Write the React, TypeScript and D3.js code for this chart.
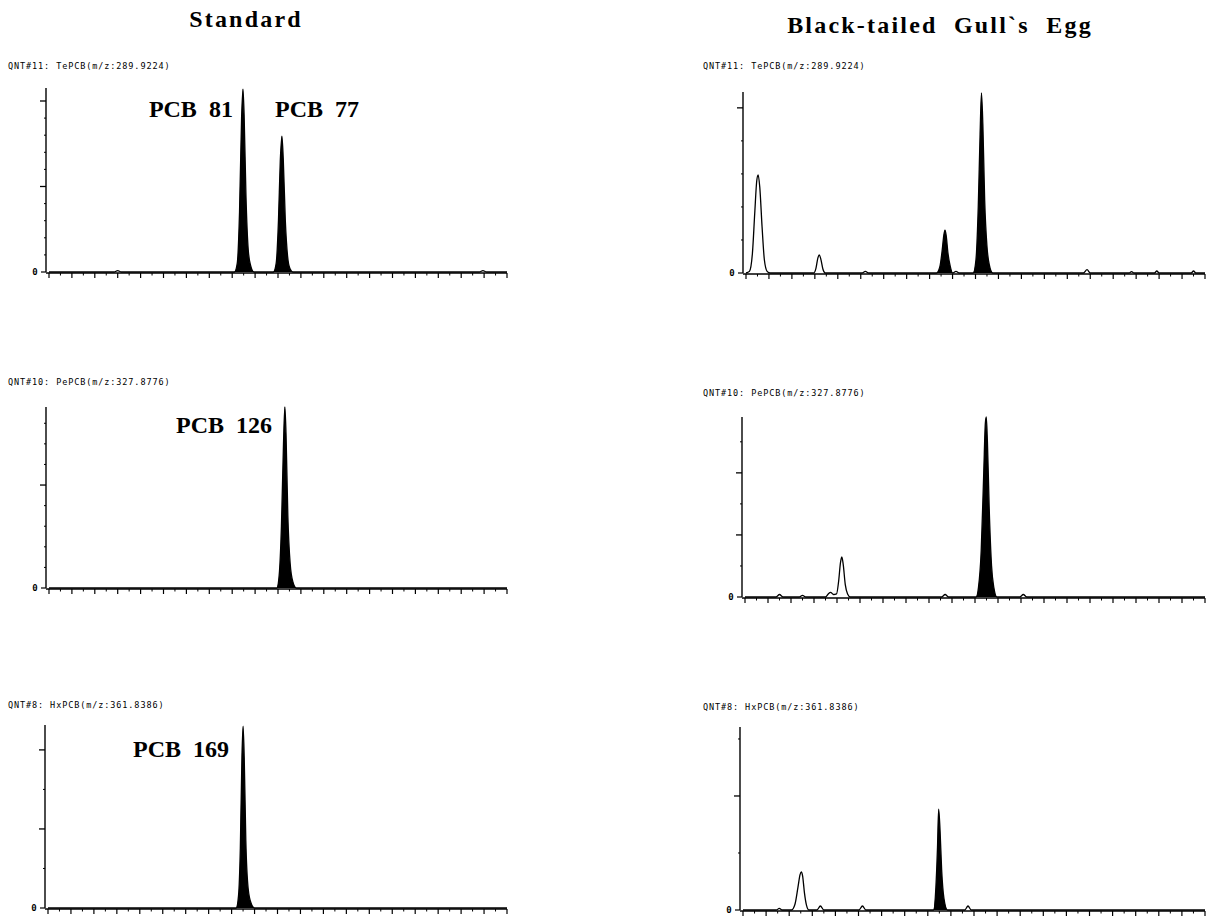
import React from 'react';
import * as d3 from 'd3';

const W = 1207;
const H = 917;

// retention time in x-axis ticks (0..20), intensity in relative units
const traceStd11: [number, number][] = [
  [0, 0], [2.85, 0], [3.0, 0.8], [3.15, 0], [8.1, 0], [8.22, 5], [8.32, 35], [8.41, 90], [8.47, 107],
  [8.52, 92], [8.6, 45], [8.7, 13], [8.8, 4], [8.95, 0], [9.8, 0], [9.92, 5], [10.02, 30], [10.1, 65],
  [10.17, 79.5], [10.23, 66], [10.32, 30], [10.42, 9], [10.52, 2], [10.65, 0], [18.8, 0], [18.95, 0.8],
  [19.1, 0], [20, 0],
];
const fillsStd11: [number, number][] = [[8.1, 8.95], [9.8, 10.65]];

const traceEgg11: [number, number][] = [
  [0, 0], [0.15, 0.5], [0.28, 6], [0.38, 18], [0.47, 28], [0.53, 29.7], [0.6, 26], [0.7, 14], [0.8, 4],
  [0.92, 0.5], [1.05, 0], [2.95, 0], [3.05, 1.5], [3.13, 4.5], [3.19, 5.5], [3.26, 4.2], [3.35, 1.2],
  [3.45, 0], [5.05, 0], [5.2, 0.5], [5.35, 0], [8.3, 0], [8.45, 2], [8.55, 7], [8.62, 11.5], [8.67, 13],
  [8.72, 11.5], [8.8, 6], [8.9, 2], [9.0, 0], [9.15, 0.5], [9.3, 0], [9.9, 0], [10.02, 4], [10.12, 20],
  [10.2, 42], [10.26, 54.5], [10.32, 45], [10.4, 22], [10.5, 8], [10.6, 2.5], [10.75, 0], [14.7, 0],
  [14.86, 1], [15.0, 0], [16.7, 0], [16.8, 0.4], [16.9, 0], [17.8, 0], [17.9, 0.6], [18.0, 0],
  [19.4, 0], [19.5, 0.6], [19.6, 0], [20, 0],
];
const fillsEgg11: [number, number][] = [[8.3, 9.0], [9.9, 10.75]];

const traceStd10: [number, number][] = [
  [0, 0], [9.95, 0], [10.05, 6], [10.15, 30], [10.24, 70], [10.3, 88], [10.35, 75], [10.43, 35],
  [10.53, 12], [10.65, 3], [10.8, 0], [20, 0],
];
const fillsStd10: [number, number][] = [[9.95, 10.8]];

const traceEgg10: [number, number][] = [
  [0, 0], [1.35, 0], [1.5, 0.8], [1.65, 0], [2.35, 0], [2.5, 0.5], [2.65, 0], [3.5, 0], [3.62, 1],
  [3.72, 1.5], [3.85, 0.8], [3.98, 1], [4.07, 5], [4.15, 11], [4.21, 12.9], [4.27, 10.5], [4.36, 4],
  [4.46, 1], [4.58, 0], [8.55, 0], [8.7, 0.8], [8.85, 0], [10.05, 0], [10.15, 3], [10.27, 15],
  [10.38, 40], [10.45, 56], [10.49, 58], [10.54, 50], [10.62, 28], [10.72, 10], [10.82, 3], [10.95, 0],
  [11.95, 0], [12.1, 0.8], [12.25, 0], [20, 0],
];
const fillsEgg10: [number, number][] = [[10.05, 10.95]];

const traceStd8: [number, number][] = [
  [0, 0], [8.2, 0], [8.3, 3], [8.38, 15], [8.45, 38], [8.5, 46], [8.55, 38], [8.62, 17], [8.72, 5],
  [8.85, 1.2], [9.0, 0], [20, 0],
];
const fillsStd8: [number, number][] = [[8.2, 9.0]];

const traceEgg8: [number, number][] = [
  [0, 0], [1.45, 0], [1.57, 0.3], [1.7, 0], [2.1, 0], [2.25, 1], [2.38, 4], [2.47, 6.2], [2.53, 6.7],
  [2.58, 6], [2.66, 3], [2.75, 0.8], [2.85, 0], [3.2, 0], [3.35, 0.7], [3.5, 0], [5.02, 0], [5.17, 0.7],
  [5.32, 0], [8.25, 0], [8.35, 4], [8.42, 11], [8.47, 17.7], [8.53, 14], [8.6, 7], [8.7, 2], [8.85, 0],
  [9.6, 0], [9.74, 0.7], [9.88, 0], [20, 0],
];
const fillsEgg8: [number, number][] = [[8.25, 8.85]];

const titles = ['Standard', 'Black-tailed  Gull`s  Egg'];
const channelLabels = [
  'QNT#11: TePCB(m/z:289.9224)',
  'QNT#10: PePCB(m/z:327.8776)',
  'QNT#8: HxPCB(m/z:361.8386)',
];
// [text, retention time, intensity, anchor]
const pcbStd11: [string, number, number, string][] = [['PCB  81', 8.03, 90.6, 'end'], ['PCB  77', 9.87, 90.6, 'start']];
const pcbStd10: [string, number, number, string][] = [['PCB  126', 9.74, 75.2, 'end']];
const pcbStd8: [string, number, number, string][] = [['PCB  169', 7.89, 38.2, 'end']];

const panels = [
  { x0: 49, x1: 507, axisX: 46, yBase: 272, yTop: 88, yMax: 107.6, major: 50, minor: 10, lx: 8, ly: 66,
    label: channelLabels[0], trace: traceStd11, fills: fillsStd11, pcb: pcbStd11 },
  { x0: 746, x1: 1205, axisX: 743, yBase: 273, yTop: 92, yMax: 54.8, major: 50, minor: 10, lx: 703, ly: 66,
    label: channelLabels[0], trace: traceEgg11, fills: fillsEgg11, pcb: [] },
  { x0: 49, x1: 507, axisX: 46, yBase: 588, yTop: 407, yMax: 87.9, major: 50, minor: 10, lx: 8, ly: 382,
    label: channelLabels[1], trace: traceStd10, fills: fillsStd10, pcb: pcbStd10 },
  { x0: 745, x1: 1205, axisX: 742, yBase: 597, yTop: 417, yMax: 58, major: 20, minor: 10, lx: 703, ly: 393,
    label: channelLabels[1], trace: traceEgg10, fills: fillsEgg10, pcb: [] },
  { x0: 48, x1: 507, axisX: 45, yBase: 908, yTop: 725, yMax: 46.3, major: 20, minor: 10, lx: 8, ly: 705,
    label: channelLabels[2], trace: traceStd8, fills: fillsStd8, pcb: pcbStd8 },
  { x0: 743, x1: 1205, axisX: 740, yBase: 910, yTop: 727, yMax: 32.1, major: 20, minor: 10, lx: 703, ly: 707,
    label: channelLabels[2], trace: traceEgg8, fills: fillsEgg8, pcb: [] },
];

const mono = '"DejaVu Sans Mono", monospace';
const serif = '"Liberation Serif", "Times New Roman", serif';

function Panel({ p }: { p: any }) {
  const x = d3.scaleLinear().domain([0, 20]).range([p.x0, p.x1]);
  const y = d3.scaleLinear().domain([0, p.yMax]).range([p.yBase, p.yTop]);
  const line = d3.line<[number, number]>().x(d => x(d[0])).y(d => y(d[1])).curve(d3.curveMonotoneX);
  const area = d3.area<[number, number]>().x(d => x(d[0])).y0(p.yBase).y1(d => y(d[1])).curve(d3.curveMonotoneX);

  const majorX = d3.range(0, 20.001, 1);
  const minorX = d3.range(0.5, 20, 1);
  const yTicks = d3.range(p.minor, p.yMax, p.minor);

  return (
    <g>
      <text x={p.lx} y={p.ly} fontFamily={mono} fontSize={8.5} letterSpacing={0.9} dominantBaseline="middle">{p.label}</text>
      {/* y axis */}
      <line x1={p.axisX} x2={p.axisX} y1={p.yBase} y2={p.yTop} stroke="#000" strokeWidth={1.4} />
      <line x1={p.axisX - 5} x2={p.axisX} y1={p.yBase} y2={p.yBase} stroke="#000" strokeWidth={1.2} />
      <text x={p.axisX - 11} y={p.yBase} fontFamily={mono} fontSize={9} fontWeight="bold" textAnchor="middle" dominantBaseline="middle">0</text>
      {yTicks.map(v => {
        const isMajor = Math.abs(v / p.major - Math.round(v / p.major)) < 1e-6;
        return <line key={v} x1={p.axisX - (isMajor ? 6 : 2)} x2={p.axisX} y1={y(v)} y2={y(v)} stroke="#000" strokeWidth={isMajor ? 1.3 : 1} />;
      })}
      {/* x axis */}
      <line x1={p.axisX} x2={p.x1} y1={p.yBase + 1} y2={p.yBase + 1} stroke="#000" strokeWidth={1.4} />
      {majorX.map(v => <line key={'M' + v} x1={x(v)} x2={x(v)} y1={p.yBase + 1} y2={p.yBase + 6} stroke="#000" strokeWidth={1.2} />)}
      {minorX.map(v => <line key={'m' + v} x1={x(v)} x2={x(v)} y1={p.yBase + 1} y2={p.yBase + 3.5} stroke="#000" strokeWidth={1} />)}
      {/* filled target peaks */}
      {p.fills.map((f: [number, number], i: number) => (
        <path key={i} d={area(p.trace.filter((d: [number, number]) => d[0] >= f[0] && d[0] <= f[1])) || ''} fill="#000" />
      ))}
      <path d={line(p.trace) || ''} fill="none" stroke="#000" strokeWidth={1.3} />
      {p.pcb.map((t: [string, number, number, string]) => (
        <text key={t[0]} x={x(t[1])} y={y(t[2])} fontFamily={serif} fontWeight="bold" fontSize={24}
          textAnchor={t[3]} style={{ whiteSpace: 'pre' }}>{t[0]}</text>
      ))}
    </g>
  );
}

export default function App() {
  return (
    <svg width={W} height={H} style={{ position: 'absolute', left: 0, top: 0, background: '#fff' }}>
      <rect width={W} height={H} fill="#fff" />
      <text x={246} y={27} textAnchor="middle" fontFamily={serif} fontWeight="bold" fontSize={24} letterSpacing={2.2}>{titles[0]}</text>
      <text x={940} y={33} textAnchor="middle" fontFamily={serif} fontWeight="bold" fontSize={24} letterSpacing={2.2}
        style={{ whiteSpace: 'pre' }}>{titles[1]}</text>
      {panels.map((p, i) => <Panel key={i} p={p} />)}
    </svg>
  );
}
